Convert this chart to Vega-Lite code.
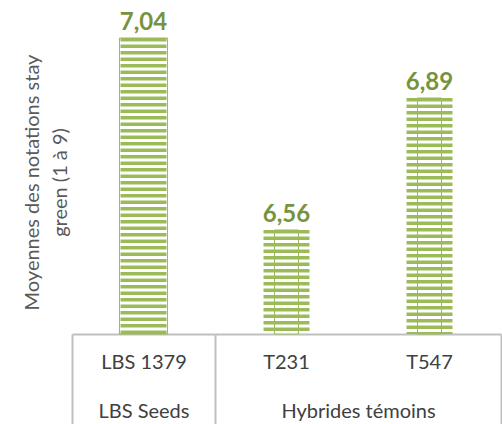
{
  "$schema": "https://vega.github.io/schema/vega-lite/v6.json",
  "padding": {"left": 22, "top": 10, "right": 2, "bottom": 0},
  "spacing": 0,
  "bounds": "flush",
  "config": {
    "locale": {"number": {"decimal": ",", "thousands": " ", "grouping": [3], "currency": ["", " €"]}},
    "view": {"stroke": null},
    "font": "Lato"
  },
  "data": {"values": [
    {"groupe": "LBS Seeds", "hybride": "LBS 1379", "note": 7.04},
    {"groupe": "Hybrides témoins", "hybride": "T231", "note": 6.56},
    {"groupe": "Hybrides témoins", "hybride": "T547", "note": 6.89}
  ]},
  "hconcat": [
    {
      "width": 143,
      "height": 320,
      "transform": [{"filter": "datum.groupe === 'LBS Seeds'"}],
      "encoding": {
        "x": {
          "field": "hybride", "type": "nominal", "sort": null,
          "scale": {"paddingInner": 0, "paddingOuter": 0},
          "axis": {
            "title": "LBS Seeds", "labelAngle": 0, "labelFontSize": 20, "labelColor": "#404040",
            "labelPadding": -67, "labelBaseline": "middle",
            "domainColor": "#BFBFBF", "domainWidth": 2,
            "tickColor": "#BFBFBF", "tickWidth": 2, "tickSize": 95, "tickBand": "extent",
            "titleFontSize": 20, "titleFontWeight": "normal", "titleColor": "#404040",
            "titleY": 77, "titleBaseline": "middle"
          }
        },
        "y": {
          "field": "note", "type": "quantitative",
          "scale": {"domain": [6.3, 7.1], "zero": false, "nice": false},
          "axis": {
            "title": ["Moyennes des notations stay", "green (1 à 9)"],
            "labels": false, "ticks": false, "domain": false, "grid": false,
            "titleFontSize": 20, "titleFontWeight": "normal", "titleColor": "#595959",
            "titleLineHeight": 28, "titleX": -34, "titleY": 168, "titleAngle": -90,
            "titleAlign": "center", "titleBaseline": "alphabetic"
          }
        }
      },
      "layer": [
        {"mark": {"type": "bar", "width": {"band": 0.336}, "fill": "white", "stroke": "#9BBB59", "strokeWidth": 1},
         "encoding": {"y2": {"datum": 6.3}}},
        {"mark": {"type": "rule", "stroke": "#9BBB59", "strokeWidth": 46, "strokeDash": [3.5, 3]},
         "encoding": {"y2": {"datum": 6.3}}},
        {"mark": {"type": "text", "dy": -8, "baseline": "alphabetic", "fontSize": 24, "fontWeight": "bold", "color": "#77933C"},
         "encoding": {"text": {"field": "note", "type": "quantitative", "format": ".2f"}}}
      ]
    },
    {
      "width": 286,
      "height": 320,
      "transform": [{"filter": "datum.groupe === 'Hybrides témoins'"}],
      "encoding": {
        "x": {
          "field": "hybride", "type": "nominal", "sort": null,
          "scale": {"paddingInner": 0, "paddingOuter": 0},
          "axis": {
            "title": "Hybrides témoins", "labelAngle": 0, "labelFontSize": 20, "labelColor": "#404040",
            "labelPadding": -67, "labelBaseline": "middle",
            "domainColor": "#BFBFBF", "domainWidth": 2,
            "tickColor": {"condition": {"test": "datum.value === 'T231'", "value": "transparent"}, "value": "#BFBFBF"},
            "tickWidth": 2, "tickSize": 95, "bandPosition": 1,
            "titleFontSize": 20, "titleFontWeight": "normal", "titleColor": "#404040",
            "titleY": 77, "titleBaseline": "middle"
          }
        },
        "y": {
          "field": "note", "type": "quantitative",
          "scale": {"domain": [6.3, 7.1], "zero": false, "nice": false},
          "axis": null
        }
      },
      "layer": [
        {"mark": {"type": "bar", "width": {"band": 0.168}, "fill": "white", "stroke": "#9BBB59", "strokeWidth": 1},
         "encoding": {"y2": {"datum": 6.3}}},
        {"mark": {"type": "rule", "stroke": "#9BBB59", "strokeWidth": 46, "strokeDash": [3.5, 3]},
         "encoding": {"y2": {"datum": 6.3}}},
        {"mark": {"type": "text", "dy": -8, "baseline": "alphabetic", "fontSize": 24, "fontWeight": "bold", "color": "#77933C"},
         "encoding": {"text": {"field": "note", "type": "quantitative", "format": ".2f"}}}
      ]
    }
  ]
}
